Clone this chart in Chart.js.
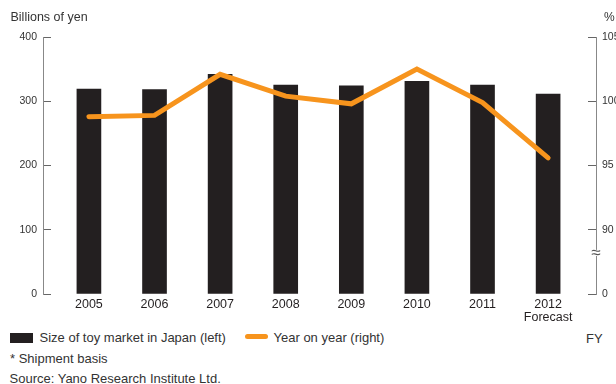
<!DOCTYPE html>
<html>
<head>
<meta charset="utf-8">
<script src="https://cdn.jsdelivr.net/npm/chart.js@4/dist/chart.umd.min.js"></script>
<style>
  html, body { margin: 0; padding: 0; background: #fff; overflow: hidden; }
  body { width: 616px; height: 384px; position: relative; font-family: "Liberation Sans", Arial, sans-serif; color: #333; }
  #wrap { position: absolute; left: 0; top: 0; width: 630px; height: 330px; }
  .t { position: absolute; white-space: nowrap; line-height: 1; }
  .box { position: absolute; }
</style>
</head>
<body>
<div id="wrap"><canvas id="chart" width="630" height="330"></canvas></div>

<div class="t" style="left:10.5px; top:11px; font-size:12.5px;">Billions of yen</div>
<div class="t" style="left:604px; top:10.5px; font-size:12px;">%</div>

<div class="box" style="left:10px; top:333px; width:23px; height:10px; background:#231F20;"></div>
<div class="t" style="left:39.5px; top:330.5px; font-size:13px;">Size of toy market in Japan (left)</div>
<div class="box" style="left:245px; top:333.5px; width:23px; height:5px; border-radius:2.5px; background:#F7941D;"></div>
<div class="t" style="left:273.5px; top:330.5px; font-size:13px;">Year on year (right)</div>
<div class="t" style="left:586px; top:331.5px; font-size:13px;">FY</div>

<div class="t" style="left:10px; top:351.5px; font-size:13px;">* Shipment basis</div>
<div class="t" style="left:9.5px; top:371.5px; font-size:13px;">Source: Yano Research Institute Ltd.</div>

<script>
const years = ['2005', '2006', '2007', '2008', '2009', '2010', '2011', '2012'];
const forecastYear = '2012';
// billions of yen, left axis
const marketSize = [319, 318, 342, 325, 324, 331, 325, 311];
// % year on year, right axis
const yearOnYear = [98.8, 98.9, 102.1, 100.4, 99.8, 102.5, 99.9, 95.6];
const leftTicks = [0, 100, 200, 300, 400];
const rightTicks = [85, 90, 95, 100, 105];
const rightBreakAt = 88.2;

const FONT = '"Liberation Sans", Arial, sans-serif';

// wavy break mark on the right axis
const axisBreak = {
  id: 'axisBreak',
  afterDraw(chart) {
    const s = chart.scales.y1;
    const y = s.getPixelForValue(rightBreakAt);
    const x = s.left;
    const ctx = chart.ctx;
    ctx.save();
    ctx.fillStyle = '#fff';
    ctx.fillRect(x - 2, y - 3, 5, 6);
    ctx.fillStyle = '#555';
    ctx.font = '17px ' + FONT;
    ctx.textAlign = 'center';
    ctx.textBaseline = 'middle';
    ctx.fillText('\u2248', x, y);
    ctx.restore();
  }
};

new Chart(document.getElementById('chart'), {
  type: 'bar',
  data: {
    datasets: [{
      type: 'line',
      label: 'Year on year (right)',
      data: yearOnYear.map((v, i) => ({ x: i, y: v })),
      yAxisID: 'y1',
      borderColor: '#F7941D',
      borderWidth: 5,
      borderCapStyle: 'round',
      pointRadius: 0,
      tension: 0,
      order: 0
    }, {
      label: 'Size of toy market in Japan (left)',
      data: marketSize.map((v, i) => ({ x: i, y: v })),
      yAxisID: 'y',
      backgroundColor: '#231F20',
      barThickness: 24,
      order: 1
    }]
  },
  options: {
    responsive: false,
    animation: false,
    devicePixelRatio: 1,
    layout: { padding: { top: 37, left: 0, right: 0, bottom: 0 } },
    plugins: { legend: { display: false }, tooltip: { enabled: false } },
    scales: {
      x: {
        type: 'linear',
        min: -0.7,
        max: 7.73,
        offset: false,
        grid: { display: false, drawTicks: false },
        border: { display: false },
        afterFit: (s) => { s.height = 36; },
        ticks: {
          stepSize: 1,
          includeBounds: false,
          padding: 4.5,
          color: '#231F20',
          font: { family: FONT, size: 12.5, lineHeight: 1.0 },
          callback: (v) => {
            const label = years[Math.round(v)];
            if (!label) return '';
            return label === forecastYear ? [label, 'Forecast'] : label;
          }
        }
      },
      y: {
        position: 'left',
        min: 0,
        max: 400,
        afterFit: (s) => { s.width = 43; },
        afterBuildTicks: (s) => { s.ticks = leftTicks.map(v => ({ value: v })); },
        grid: { drawOnChartArea: false, tickLength: -8, color: '#666' },
        border: { color: '#888' },
        ticks: { padding: 14, color: '#333', font: { family: FONT, size: 10.5 } }
      },
      y1: {
        position: 'right',
        min: 85,
        max: 105,
        afterFit: (s) => { s.width = 34; },
        afterBuildTicks: (s) => { s.ticks = rightTicks.map(v => ({ value: v })); },
        grid: { drawOnChartArea: false, tickLength: -8, color: '#666' },
        border: { color: '#888' },
        ticks: {
          padding: 14,
          color: '#333',
          font: { family: FONT, size: 10.5 },
          callback: (v) => (v === 85 ? '0' : v)
        }
      }
    }
  },
  plugins: [axisBreak]
});
</script>
</body>
</html>
